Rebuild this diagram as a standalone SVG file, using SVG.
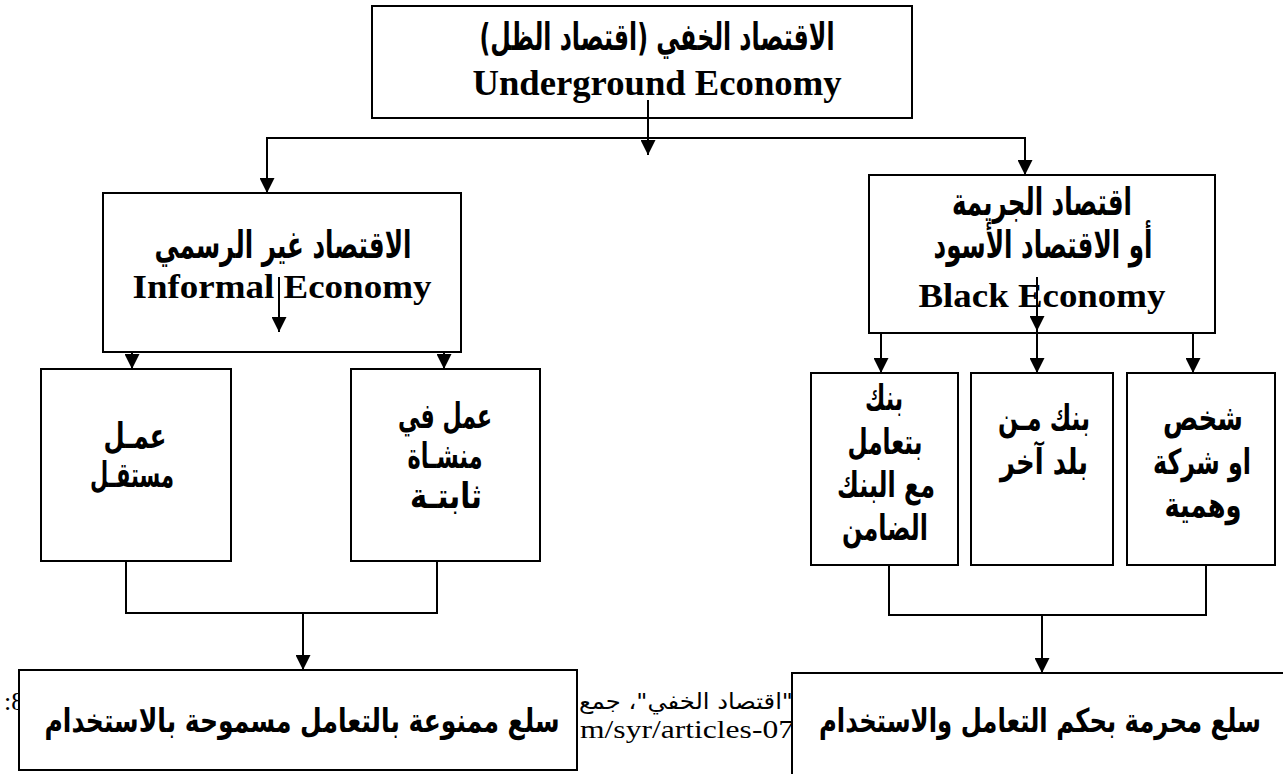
<svg xmlns="http://www.w3.org/2000/svg" width="1283" height="774" viewBox="0 0 1283 774">
<defs>
<style>
.box{fill:#fff;stroke:#000;stroke-width:2}
.ln{fill:none;stroke:#000;stroke-width:2}
.ar{font-family:'DejaVu Sans',sans-serif;font-weight:bold;font-size:35px;fill:#000;text-anchor:middle}
.arh{font-size:38px}
.arb{font-size:33px}
.en{font-family:'Liberation Serif','Times New Roman',serif;font-weight:bold;font-size:34px;fill:#000;text-anchor:middle}
.bg{font-family:'Liberation Serif','Times New Roman',serif;font-size:26px;fill:#000}
.bgar{font-family:'DejaVu Sans',sans-serif;font-size:22px;fill:#000}
</style>
<marker id="ah" viewBox="0 0 14 14" refX="14" refY="7" markerWidth="15" markerHeight="15" markerUnits="userSpaceOnUse" orient="auto">
<path d="M0,0 L14,7 L0,14 z" fill="#000"/>
</marker>
</defs>
<rect width="1283" height="774" fill="#fff"/>

<g id="background-text">
<text class="bg" x="4" y="710">:8</text>
<text class="bgar" x="793" y="709" direction="rtl" text-anchor="start" textLength="214" lengthAdjust="spacingAndGlyphs">"اقتصاد الخفي"، جمع</text>
<text class="bg" x="580" y="738" textLength="214" lengthAdjust="spacingAndGlyphs">m/syr/articles-07</text>
</g>

<g id="connectors">
<path class="ln" d="M648,138 H267 V193" marker-end="url(#ah)"/>
<path class="ln" d="M648,138 H1025 V175" marker-end="url(#ah)"/>
<path class="ln" d="M279,313 H132 V369" marker-end="url(#ah)"/>
<path class="ln" d="M279,313 H444 V369" marker-end="url(#ah)"/>
<path class="ln" d="M881,317 V373" marker-end="url(#ah)"/>
<path class="ln" d="M881,317 H1193 V373" marker-end="url(#ah)"/>
<path class="ln" d="M126,561 V613 H437 V561"/>
<path class="ln" d="M303,613 V670" marker-end="url(#ah)"/>
<path class="ln" d="M889,565 V615 H1206 V565"/>
<path class="ln" d="M1042,615 V673" marker-end="url(#ah)"/>
</g>

<g id="node-underground">
<rect class="box" x="372" y="6" width="540" height="112"/>
<text class="ar arh" x="657" y="50" direction="rtl" textLength="355" lengthAdjust="spacingAndGlyphs">الاقتصاد الخفي (اقتصاد الظل)</text>
<text class="en" x="657" y="95" style="font-size:36px" textLength="369" lengthAdjust="spacingAndGlyphs">Underground Economy</text>
</g>

<g id="node-informal">
<rect class="box" x="103" y="193" width="358" height="159"/>
<text class="ar arh" x="283" y="258" textLength="257" lengthAdjust="spacingAndGlyphs">الاقتصاد غير الرسمي</text>
<text class="en" x="282" y="298" textLength="299" lengthAdjust="spacingAndGlyphs">Informal Economy</text>
</g>

<g id="node-black">
<rect class="box" x="869" y="175" width="346" height="158"/>
<text class="ar arh" x="1042" y="215" textLength="180" lengthAdjust="spacingAndGlyphs">اقتصاد الجريمة</text>
<text class="ar arh" x="1043" y="258" textLength="219" lengthAdjust="spacingAndGlyphs">أو الاقتصاد الأسود</text>
<text class="en" x="1042" y="307" textLength="247" lengthAdjust="spacingAndGlyphs">Black Economy</text>
</g>

<g id="connectors-inner">
<path class="ln" d="M279,277 V332" marker-end="url(#ah)"/>
<path class="ln" d="M1037,277 V331" marker-end="url(#ah)"/>
<path class="ln" d="M1037,331 V373" marker-end="url(#ah)"/>
<path class="ln" d="M648,100 V155" marker-end="url(#ah)"/>
</g>

<g id="node-self-employed">
<rect class="box" x="41" y="369" width="190" height="192"/>
<text class="ar" x="135" y="448" textLength="63" lengthAdjust="spacingAndGlyphs">عمـل</text>
<text class="ar" x="132" y="487" textLength="84" lengthAdjust="spacingAndGlyphs">مستقـل</text>
</g>

<g id="node-fixed">
<rect class="box" x="351" y="369" width="189" height="192"/>
<text class="ar" x="445" y="428" textLength="94" lengthAdjust="spacingAndGlyphs">عمل في</text>
<text class="ar" x="445" y="468" textLength="75" lengthAdjust="spacingAndGlyphs">منشـاة</text>
<text class="ar" x="446" y="508" textLength="72" lengthAdjust="spacingAndGlyphs">ثابتـة</text>
</g>

<g id="node-bank-guarantor">
<rect class="box" x="811" y="373" width="147" height="192"/>
<text class="ar" x="884" y="410" textLength="38" lengthAdjust="spacingAndGlyphs">بنك</text>
<text class="ar" x="885" y="454" textLength="75" lengthAdjust="spacingAndGlyphs">بتعامل</text>
<text class="ar" x="886" y="497" textLength="98" lengthAdjust="spacingAndGlyphs">مع البنك</text>
<text class="ar" x="885" y="540" textLength="86" lengthAdjust="spacingAndGlyphs">الضامن</text>
</g>

<g id="node-foreign-bank">
<rect class="box" x="971" y="373" width="142" height="192"/>
<text class="ar" x="1044" y="430" textLength="92" lengthAdjust="spacingAndGlyphs">بنك مـن</text>
<text class="ar" x="1044" y="474" textLength="88" lengthAdjust="spacingAndGlyphs">بلد آخر</text>
</g>

<g id="node-fake-person">
<rect class="box" x="1127" y="373" width="148" height="192"/>
<text class="ar" x="1203" y="430" textLength="80" lengthAdjust="spacingAndGlyphs">شخص</text>
<text class="ar" x="1202" y="474" textLength="98" lengthAdjust="spacingAndGlyphs">او شركة</text>
<text class="ar" x="1203" y="517" textLength="77" lengthAdjust="spacingAndGlyphs">وهمية</text>
</g>

<g id="node-banned-goods">
<rect class="box" x="19" y="670" width="558" height="100"/>
<text class="ar arb" x="302" y="732" textLength="515" lengthAdjust="spacingAndGlyphs">سلع ممنوعة بالتعامل مسموحة بالاستخدام</text>
</g>

<g id="node-forbidden-goods">
<rect class="box" x="792" y="673" width="500" height="110"/>
<text class="ar arb" x="1040" y="732" textLength="442" lengthAdjust="spacingAndGlyphs">سلع محرمة بحكم التعامل والاستخدام</text>
</g>
</svg>
